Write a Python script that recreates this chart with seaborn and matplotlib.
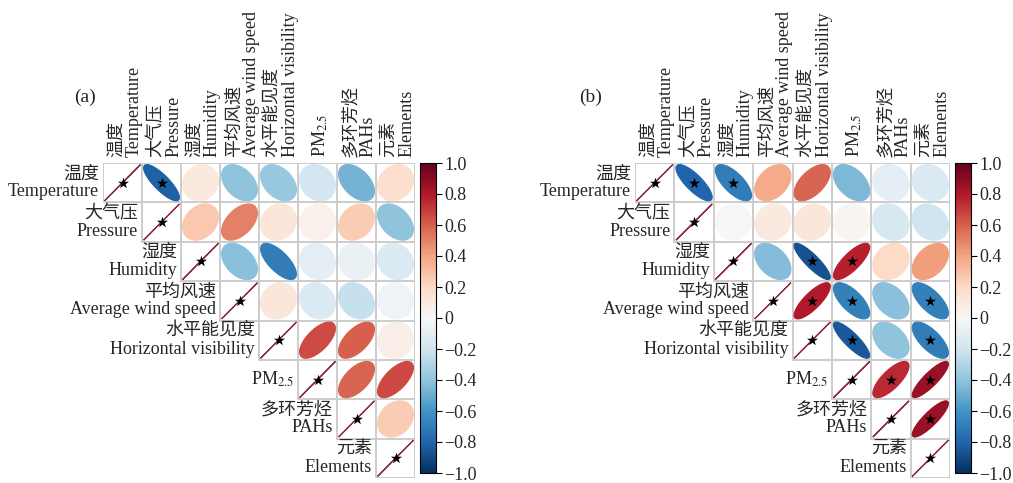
import numpy as np
import pandas as pd
import matplotlib
matplotlib.use("Agg")
import matplotlib.pyplot as plt
import seaborn as sns
from matplotlib.patches import Polygon

# variable names (Chinese / English)
names_cn = ["温度", "大气压", "湿度", "平均风速", "水平能见度", "", "多环芳烃", "元素"]
names_en = ["Temperature", "Pressure", "Humidity", "Average wind speed",
            "Horizontal visibility", "PM$_{2.5}$", "PAHs", "Elements"]

# upper triangle of the correlation matrices, row by row (diagonal left out)
corr_a_upper = [
    [-0.82, 0.10, -0.40, -0.38, -0.18, -0.47, 0.17],
    [0.27, 0.50, 0.12, 0.05, 0.25, -0.40],
    [-0.42, -0.70, -0.10, -0.07, -0.15],
    [0.12, -0.15, -0.23, -0.04],
    [0.65, 0.60, 0.07],
    [0.58, 0.66],
    [0.25],
]
corr_b_upper = [
    [-0.80, -0.70, 0.38, 0.58, -0.45, -0.10, -0.15],
    [0.00, 0.10, 0.12, 0.02, -0.17, -0.20],
    [-0.43, -0.87, 0.78, 0.20, 0.42],
    [0.80, -0.68, -0.42, -0.68],
    [-0.85, -0.40, -0.70],
    [0.75, 0.86],
    [0.86],
]
# significant pairs (marked with a star), diagonal always starred
sig_a = [(0, 1)]
sig_b = [(0, 1), (0, 2), (2, 4), (2, 5), (3, 4), (3, 5), (3, 7),
         (4, 5), (4, 7), (5, 6), (5, 7), (6, 7)]

cbar_ticks = [-1.0, -0.8, -0.6, -0.4, -0.2, 0, 0.2, 0.4, 0.6, 0.8, 1.0]
cbar_labels = ["\u22121.0", "\u22120.8", "\u22120.6", "\u22120.4", "\u22120.2", "0",
               "0.2", "0.4", "0.6", "0.8", "1.0"]

sns.set_theme(style="white")
plt.rcParams["font.family"] = ["Liberation Serif", "Noto Sans CJK SC", "DejaVu Sans"]
plt.rcParams["mathtext.fontset"] = "stix"

n = len(names_en)
labels = [f"{c}\n{e}" if c else e for c, e in zip(names_cn, names_en)]


def full_matrix(upper):
    m = np.eye(n)
    for i, row in enumerate(upper):
        for k, v in enumerate(row):
            j = i + 1 + k
            m[i, j] = v
            m[j, i] = v
    return pd.DataFrame(m, index=names_en, columns=names_en)


W, H = 1013, 483
fig = plt.figure(figsize=(W / 100, H / 100), dpi=100)
top, bottom = 163, 478
cb_bottom = 473
t = np.linspace(0, 2 * np.pi, 120)

panels = [
    (full_matrix(corr_a_upper), sig_a, "(a)", (103, 415), (420, 436), 85),
    (full_matrix(corr_b_upper), sig_b, "(b)", (635, 950), (955, 971), 591),
]

for df, sig, tag, (gx0, gx1), (cx0, cx1), tag_x in panels:
    ax = fig.add_axes([gx0 / W, 1 - bottom / H, (gx1 - gx0) / W, (bottom - top) / H])
    cax = fig.add_axes([cx0 / W, 1 - cb_bottom / H, (cx1 - cx0) / W, (cb_bottom - top) / H])
    mask = np.tril(np.ones((n, n), dtype=bool), k=-1)
    sns.heatmap(df, mask=mask, cmap="RdBu_r", vmin=-1, vmax=1, ax=ax, cbar_ax=cax,
                linewidths=1.2, linecolor="#cdcdcd", xticklabels=False, yticklabels=False)
    mesh = ax.collections[0]
    cmap, norm = mesh.cmap, mesh.norm
    cb = mesh.colorbar
    # cells become white boxes; ellipses carry the colour
    mesh.set_array(None)
    faces, edges = [], []
    for i in range(n):
        for j in range(n):
            if j >= i:
                faces.append("white")
                edges.append("#cdcdcd")
            else:
                faces.append((1, 1, 1, 0))
                edges.append((1, 1, 1, 0))
    mesh.set_facecolor(faces)
    mesh.set_edgecolor(edges)

    vals = df.values
    for i in range(n):
        for j in range(i, n):
            r = vals[i, j]
            d = np.arccos(np.clip(r, -1, 1))
            xs = j + 0.5 + 0.46 * np.cos(t + d / 2)
            ys = i + 0.5 - 0.46 * np.cos(t - d / 2)
            col = cmap(norm(r))
            if i == j:
                col = "#8c2d45"
            ax.add_patch(Polygon(np.column_stack([xs, ys]), closed=True,
                                 facecolor=col, edgecolor=col,
                                 lw=0.9 if i == j else 0.8, zorder=2))

    stars = [(i, i) for i in range(n)] + list(sig)
    ax.scatter([j + 0.5 for i, j in stars], [i + 0.5 for i, j in stars],
               marker="*", s=70, color="black", zorder=3, linewidths=0)

    for k, lab in enumerate(labels):
        ax.text(k - 0.1, k + 0.5, lab, ha="right", va="center", multialignment="right",
                linespacing=1.05, fontsize=13)
        ax.text(k + 0.58, -0.15, lab, rotation=90, ha="center", va="bottom",
                multialignment="left", linespacing=1.05, fontsize=13)

    cb.outline.set_linewidth(0.8)
    cb.outline.set_edgecolor("black")
    cb.set_ticks(cbar_ticks)
    cb.set_ticklabels(cbar_labels)
    cax.tick_params(length=4, width=0.8, labelsize=13, pad=2, right=True, color="black")

    fig.text(tag_x / W, 1 - 97 / H, tag, ha="center", va="center", fontsize=14)

fig.savefig("out.png", dpi=100)
